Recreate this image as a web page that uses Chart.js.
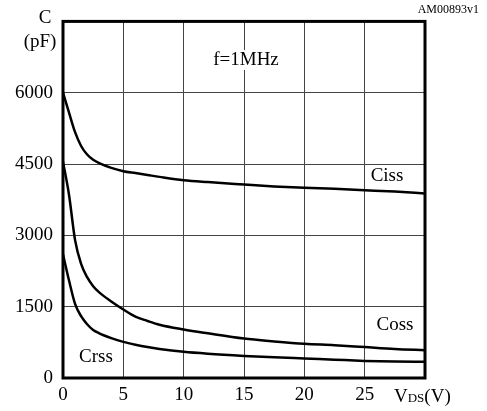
<!DOCTYPE html>
<html><head><meta charset="utf-8">
<script src="https://cdn.jsdelivr.net/npm/chart.js@4.4.1/dist/chart.umd.min.js"></script>
<style>html,body{margin:0;padding:0;background:#fff}#wrap{width:487px;height:411px;position:relative}</style>
</head><body><div id="wrap"><canvas id="c" width="487" height="411"></canvas></div>
<script>
const vds = [0, 0.5, 1, 1.5, 2, 2.5, 3, 4, 5, 6, 7, 8, 10, 12, 15, 17.5, 20, 22.5, 25, 27.5, 30];
const ciss = [6000, 5580, 5170, 4880, 4700, 4590, 4520, 4420, 4350, 4310, 4270, 4230, 4160, 4120, 4070, 4030, 4000, 3980, 3950, 3920, 3880];
const coss = [4550, 3850, 2900, 2400, 2120, 1930, 1800, 1610, 1440, 1290, 1200, 1120, 1020, 940, 830, 770, 720, 690, 650, 610, 585];
const crss = [2600, 2050, 1560, 1300, 1130, 1010, 940, 840, 760, 700, 650, 610, 550, 510, 465, 435, 410, 385, 360, 345, 340];
const xTicks = [0, 5, 10, 15, 20, 25];
const yTicks = [0, 1500, 3000, 4500, 6000];
const seriesNames = ['Ciss', 'Coss', 'Crss'];
const FONT = '"Liberation Serif", "Times New Roman", serif';

const pts = arr => arr.map((v, i) => ({x: vds[i], y: v}));

const textPlugin = {
  id: 'texts',
  afterDraw(chart) {
    const ctx = chart.ctx;
    ctx.save();
    ctx.fillStyle = '#000';
    ctx.textBaseline = 'middle';
    ctx.textAlign = 'center';
    ctx.font = '19px ' + FONT;
    ctx.fillText('C', 45, 18);
    ctx.fillText('(pF)', 40, 42);
    const fx = 246, fy = 60;
    const w = ctx.measureText('f=1MHz').width;
    ctx.fillStyle = '#fff';
    ctx.fillRect(fx - w/2 - 2, fy - 10, w + 4, 20);
    ctx.fillStyle = '#000';
    ctx.fillText('f=1MHz', fx, fy);
    ctx.fillText(seriesNames[0], 387, 176);
    ctx.fillText(seriesNames[1], 395, 325);
    ctx.fillText(seriesNames[2], 96, 357);
    ctx.font = '12px ' + FONT;
    ctx.textAlign = 'right';
    ctx.fillText('AM00893v1', 479, 10);
    ctx.textAlign = 'left';
    ctx.textBaseline = 'alphabetic';
    let x = 394, base = 402;
    ctx.font = '19px ' + FONT;
    ctx.fillText('V', x, base); x += ctx.measureText('V').width;
    ctx.font = '13px ' + FONT;
    ctx.fillText('DS', x, base); x += ctx.measureText('DS').width;
    ctx.font = '19px ' + FONT;
    ctx.fillText('(V)', x, base);
    const a = chart.chartArea;
    ctx.lineWidth = 3;
    ctx.strokeStyle = '#000';
    ctx.strokeRect(a.left, a.top, a.right - a.left, a.bottom - a.top);
    ctx.restore();
  }
};

new Chart(document.getElementById('c'), {
  type: 'line',
  data: {
    datasets: [
      {label: seriesNames[0], data: pts(ciss)},
      {label: seriesNames[1], data: pts(coss)},
      {label: seriesNames[2], data: pts(crss)}
    ].map(d => Object.assign(d, {borderColor: '#000', borderWidth: 2.5, pointRadius: 0, fill: false, cubicInterpolationMode: 'monotone'}))
  },
  options: {
    responsive: false,
    animation: false,
    layout: {padding: {left: 0, right: 62, top: 18, bottom: 0}},
    plugins: {legend: {display: false}, tooltip: {enabled: false}},
    scales: {
      x: {
        type: 'linear', min: 0, max: 30,
        afterBuildTicks: s => { s.ticks = xTicks.concat([30]).map(v => ({value: v})); },
        afterFit: s => { s.height = 33; },
        grid: {color: '#444', lineWidth: 1, drawTicks: false},
        border: {display: false},
        ticks: {padding: 6, color: '#000', font: {family: FONT, size: 19}, maxRotation: 0,
          callback: v => xTicks.includes(v) ? String(v) : ''}
      },
      y: {
        type: 'linear', min: 0, max: 7500,
        afterBuildTicks: s => { s.ticks = yTicks.concat([7500]).map(v => ({value: v})); },
        afterFit: s => { s.width = 63; },
        grid: {color: '#444', lineWidth: 1, drawTicks: false},
        border: {display: false},
        ticks: {padding: 10, color: '#000', font: {family: FONT, size: 19},
          callback: v => yTicks.includes(v) ? String(v) : ''}
      }
    }
  },
  plugins: [textPlugin]
});
</script></body></html>
